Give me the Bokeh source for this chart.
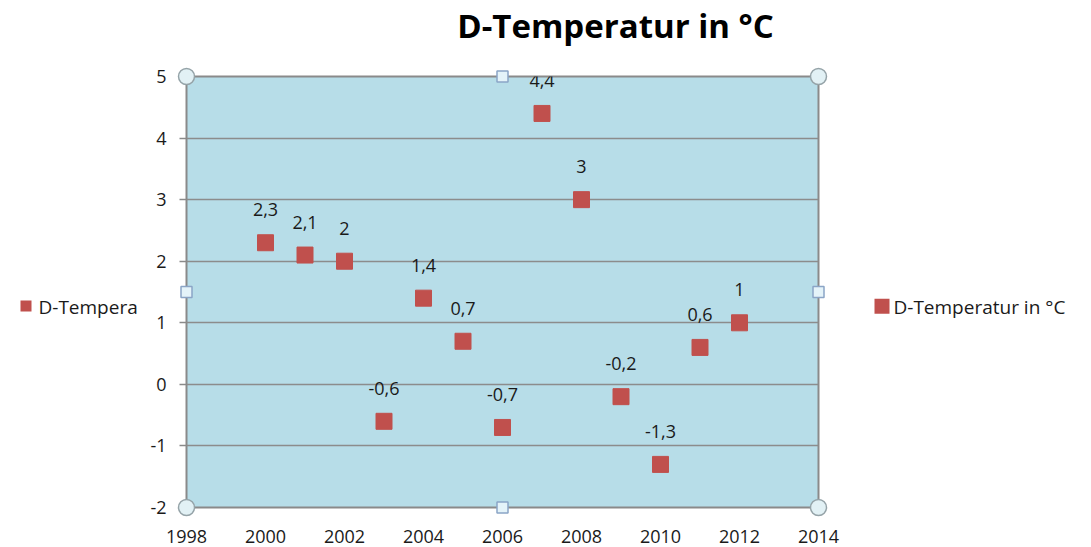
from bokeh.plotting import figure
from bokeh.models import ColumnDataSource, LabelSet, Range1d, FixedTicker
from bokeh.layouts import row, column
from bokeh.core.properties import value
from bokeh.embed import file_html
from bokeh.resources import INLINE

# ---- data ----
years = [2000, 2001, 2002, 2003, 2004, 2005, 2006, 2007, 2008, 2009, 2010, 2011, 2012]
temps = [2.3, 2.1, 2.0, -0.6, 1.4, 0.7, -0.7, 4.4, 3.0, -0.2, -1.3, 0.6, 1.0]
x_ticks = [1998, 2000, 2002, 2004, 2006, 2008, 2010, 2012, 2014]
y_ticks = [-2, -1, 0, 1, 2, 3, 4, 5]
title_text = "D-Temperatur in °C"
series_name = "D-Temperatur in °C"
left_legend_text = "D-Tempera"


def fmt(v):
    return ("%g" % v).replace(".", ",")


labels = [fmt(v) for v in temps]

# ---- geometry (pixels) ----
W, H = 1091, 547
TH = 50                 # title strip height
LW = 140                # left legend strip width
RX = 858                # x where right legend strip starts
FL, FR, FT, FB = 186, 818, 76, 507   # plot area in page pixels
X0, X1 = 1998, 2014
Y0, Y1 = -2, 5
FONT = "Open Sans"
RED = "#c0504d"
TXT = "#1a1a1a"
LEG_DY = 8              # empirical vertical correction for the legend strips


def blank(w, h):
    f = figure(width=w, height=h, output_backend="svg", toolbar_location=None,
               x_range=Range1d(0, w), y_range=Range1d(h, 0), min_border=0)
    f.axis.visible = False
    f.grid.visible = False
    f.outline_line_color = None
    f.background_fill_color = "white"
    f.border_fill_color = "white"
    return f


# ---- title strip ----
t = blank(W, TH)
t.text(x=[615], y=[25], text=[title_text], text_align="center", text_baseline="middle",
       text_font=value(FONT), text_font_size=value("33px"), text_font_style="bold",
       text_color="black")

# ---- main plot ----
MH = H - TH
p = figure(width=RX - LW, height=MH, output_backend="svg", toolbar_location=None,
           x_range=Range1d(X0, X1), y_range=Range1d(Y0, Y1),
           min_border_left=FL - LW, min_border_right=RX - FR,
           min_border_top=FT - TH, min_border_bottom=H - FB)
p.background_fill_color = "#b7dde8"
p.border_fill_color = "white"
p.outline_line_color = "#8a8a8a"
p.outline_line_width = 2

p.xgrid.visible = False
p.ygrid.ticker = FixedTicker(ticks=y_ticks)
p.ygrid.grid_line_color = "#8c8c8c"
p.ygrid.grid_line_width = 1.5

p.xaxis.ticker = FixedTicker(ticks=x_ticks)
p.yaxis.ticker = FixedTicker(ticks=y_ticks)
p.yaxis.major_label_overrides = {v: str(v) for v in y_ticks}
p.xaxis.major_label_overrides = {v: str(v) for v in x_ticks}
for ax in (p.xaxis, p.yaxis):
    ax.axis_line_color = None
    ax.minor_tick_line_color = None
    ax.major_label_text_font = FONT
    ax.major_label_text_font_size = "18px"
    ax.major_label_text_color = TXT
p.xaxis.major_tick_line_color = None
p.xaxis.major_label_standoff = 16
p.yaxis.major_tick_in = 0
p.yaxis.major_tick_out = 7
p.yaxis.major_tick_line_color = "#8a8a8a"
p.yaxis.major_tick_line_width = 1.5
p.yaxis.major_label_standoff = 13

src = ColumnDataSource(dict(x=years, y=temps, t=labels))
p.scatter("x", "y", source=src, marker="square", size=16,
          fill_color=RED, line_color=RED)

p.add_layout(LabelSet(x="x", y="y", text="t", source=src, y_offset=33,
                      text_align="center", text_baseline="middle",
                      text_font=value(FONT), text_font_size=value("18px"),
                      text_color=TXT))

# selection handles
ymid = (Y0 + Y1) / 2
xmid = (X0 + X1) / 2
c = p.scatter([X0, X1, X0, X1], [Y1, Y1, Y0, Y0], marker="circle", size=16,
              fill_color="#e2f1f5", line_color="#95a3a8", line_width=1.5)
c.level = "overlay"
s = p.scatter([xmid, xmid, X0, X1], [Y1, Y0, ymid, ymid], marker="square", size=11,
              fill_color="#e4f3f9", line_color="#8ba5c6", line_width=1.5)
s.level = "overlay"

# ---- left legend strip (truncated entry) ----
lf = blank(LW, MH)
lf.scatter(x=[25.5], y=[306.5 - TH + LEG_DY], marker="square", size=11,
           fill_color=RED, line_color=None)
lf.text(x=[38], y=[308 - TH + LEG_DY], text=[left_legend_text], text_align="left",
        text_baseline="middle", text_font=value(FONT), text_font_size=value("19px"),
        text_color=TXT)

# ---- right legend strip ----
rf = blank(W - RX, MH)
rf.scatter(x=[881.5 - RX], y=[307 - TH + LEG_DY], marker="square", size=15,
           fill_color=RED, line_color=None)
rf.text(x=[893 - RX], y=[308 - TH + LEG_DY], text=[series_name], text_align="left",
        text_baseline="middle", text_font=value(FONT), text_font_size=value("19px"),
        text_color=TXT)

layout = column(t, row(lf, p, rf, spacing=0), spacing=0)
open("out.html", "w").write(file_html(layout, INLINE))
